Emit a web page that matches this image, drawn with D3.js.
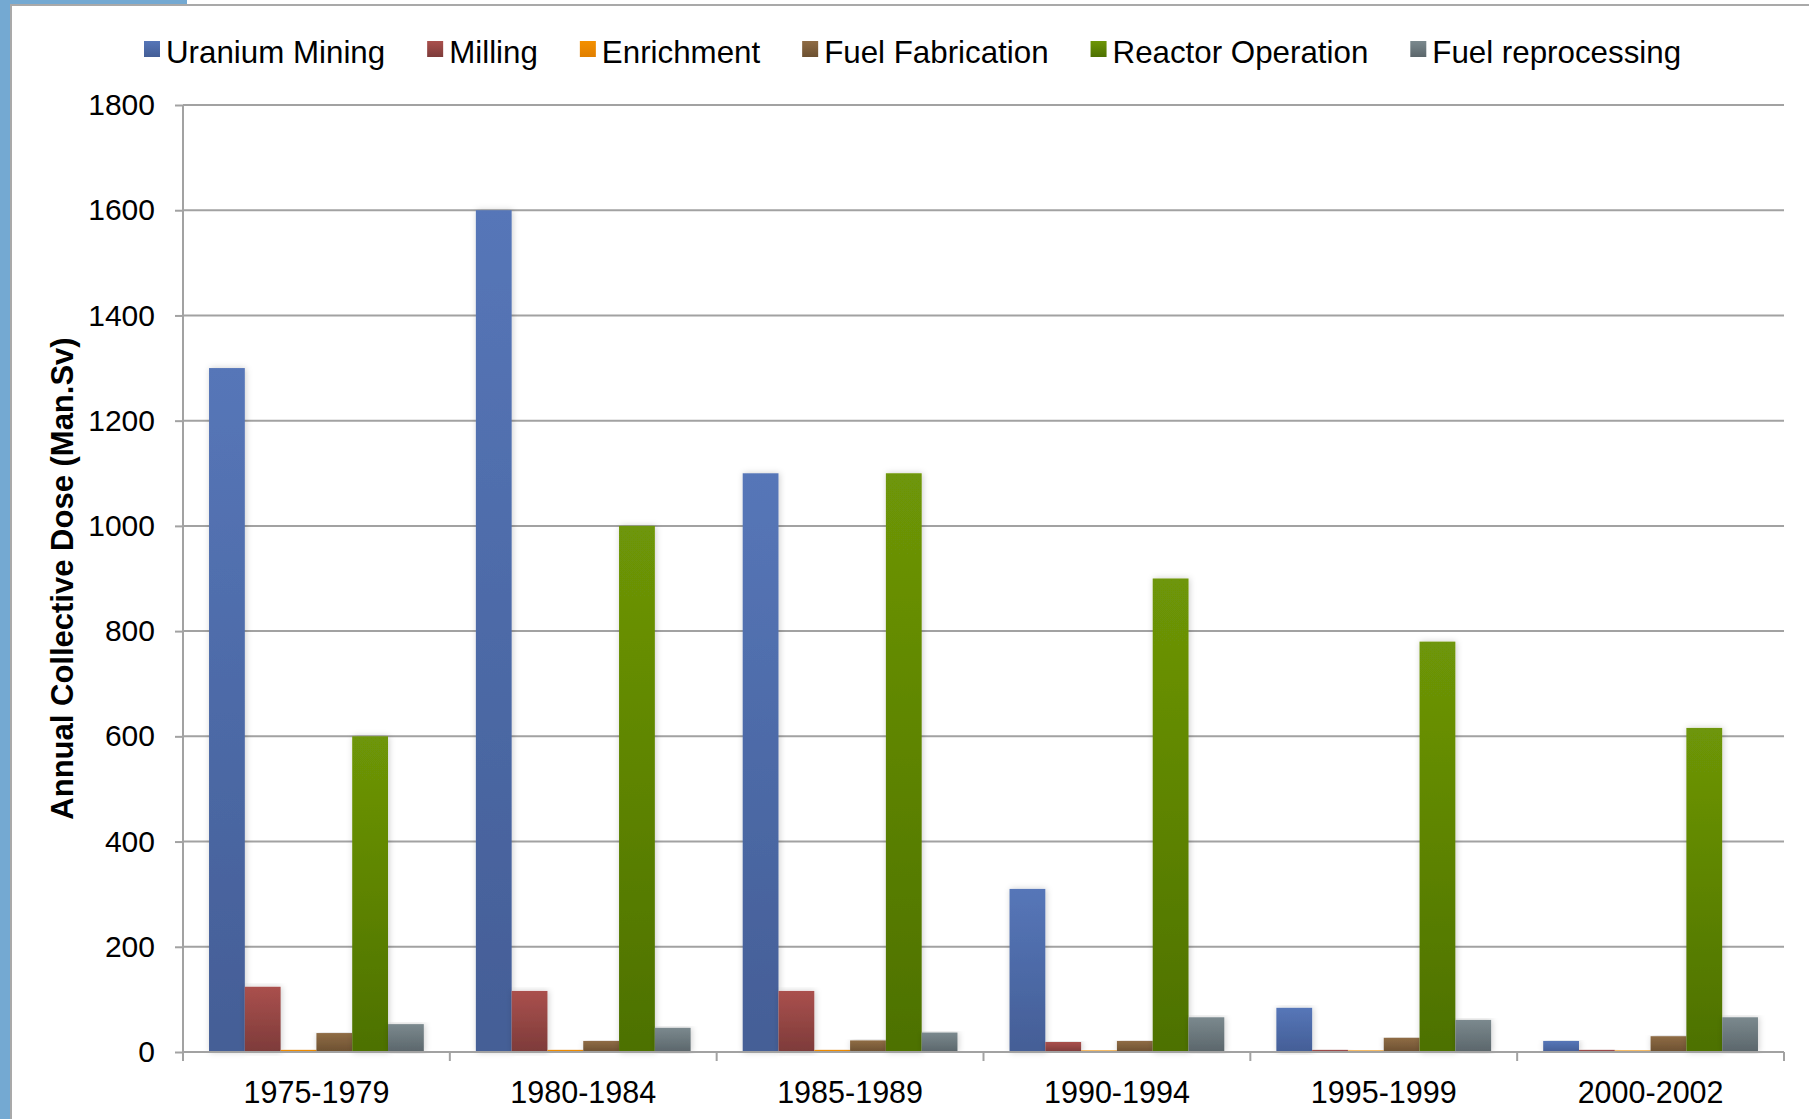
<!DOCTYPE html>
<html>
<head>
<meta charset="utf-8">
<script src="https://cdn.jsdelivr.net/npm/d3@7"></script>
<style>
  body { margin: 0; background: #fff; }
  svg { display: block; font-family: "Liberation Sans", Arial, sans-serif; }
</style>
</head>
<body>
<svg id="chart" width="1809" height="1119"></svg>
<script>
// Annual collective dose by stage of the nuclear fuel cycle
const categories = ["1975-1979", "1980-1984", "1985-1989", "1990-1994", "1995-1999", "2000-2002"];
const seriesNames = ["Uranium Mining", "Milling", "Enrichment", "Fuel Fabrication", "Reactor Operation", "Fuel reprocessing"];
const uraniumMining     = [1300, 1600, 1100, 310, 84, 21];
const milling           = [124, 116, 116, 19, 4, 4];
const enrichment        = [4, 4, 4, 3, 3, 3];
const fuelFabrication   = [36, 21, 22, 21, 27, 30];
const reactorOperation  = [600, 1000, 1100, 900, 780, 616];
const fuelReprocessing  = [53, 46, 37, 66, 61, 66];
const yTicks = [0, 200, 400, 600, 800, 1000, 1200, 1400, 1600, 1800];
const yTitle = "Annual Collective Dose (Man.Sv)";

const seriesValues = [uraniumMining, milling, enrichment, fuelFabrication, reactorOperation, fuelReprocessing];
// top / bottom shades for each series' vertical gradient
const seriesColors = [
  ["#5676b8", "#445e96"],
  ["#aa504d", "#7d3b3a"],
  ["#f49000", "#e07f00"],
  ["#8f6c45", "#6c5031"],
  ["#6e9607", "#4d7100"],
  ["#7b898e", "#5b666b"]
];

const W = 1809, H = 1119;
const plot = { left: 183, right: 1784, top: 105, bottom: 1052 };
const gridColor = "#a2a2a2";

const svg = d3.select("#chart");
const defs = svg.append("defs");

seriesNames.forEach((name, i) => {
  const g = defs.append("linearGradient")
    .attr("id", "grad" + i).attr("x1", 0).attr("y1", 0).attr("x2", 0).attr("y2", 1);
  g.append("stop").attr("offset", "0%").attr("stop-color", seriesColors[i][0]);
  g.append("stop").attr("offset", "100%").attr("stop-color", seriesColors[i][1]);
});

const shadow = defs.append("filter").attr("id", "barShadow")
  .attr("x", "-30%").attr("y", "-5%").attr("width", "160%").attr("height", "110%");
shadow.append("feDropShadow").attr("dx", 1).attr("dy", 0)
  .attr("stdDeviation", 3).attr("flood-color", "#000").attr("flood-opacity", 0.2);

// page frame: blue strip on the left and thin grey border
svg.append("rect").attr("x", 0).attr("y", 0).attr("width", W).attr("height", H).attr("fill", "#fff");
svg.append("rect").attr("x", 0).attr("y", 0).attr("width", 10).attr("height", H).attr("fill", "#74a9d2");
svg.append("rect").attr("x", 0).attr("y", 0).attr("width", 187).attr("height", 4).attr("fill", "#74a9d2");
svg.append("line").attr("x1", 10).attr("x2", W).attr("y1", 5).attr("y2", 5)
  .attr("stroke", "#a9a9a9").attr("stroke-width", 2);
svg.append("line").attr("x1", 11).attr("x2", 11).attr("y1", 5).attr("y2", H)
  .attr("stroke", "#a9a9a9").attr("stroke-width", 2);

// scales
const x0 = d3.scaleBand().domain(categories).range([plot.left, plot.right]).paddingInner(0).paddingOuter(0);
const x1 = d3.scaleBand().domain(seriesNames).range([0, x0.bandwidth()]).paddingInner(0).paddingOuter(0.727);
const y = d3.scaleLinear().domain([0, 1800]).range([plot.bottom, plot.top]);

// horizontal gridlines
svg.append("g").selectAll("line").data(yTicks.filter(d => d > 0)).join("line")
  .attr("x1", plot.left).attr("x2", plot.right)
  .attr("y1", d => y(d)).attr("y2", d => y(d))
  .attr("stroke", gridColor).attr("stroke-width", 2);

// y axis
const yAxis = svg.append("g").attr("transform", `translate(${plot.left},0)`)
  .call(d3.axisLeft(y).tickValues(yTicks).tickSize(8).tickPadding(20).tickFormat(d3.format("d")));
yAxis.select(".domain").remove();
yAxis.selectAll(".tick line").attr("stroke", gridColor).attr("stroke-width", 2);
yAxis.selectAll(".tick text").attr("font-size", 30).attr("fill", "#000")
  .attr("font-family", "'Liberation Sans', Arial, sans-serif");
svg.append("line").attr("x1", plot.left).attr("x2", plot.left)
  .attr("y1", plot.top).attr("y2", plot.bottom + 9)
  .attr("stroke", gridColor).attr("stroke-width", 2);

// bars
const groups = svg.append("g").selectAll("g").data(categories).join("g")
  .attr("transform", d => `translate(${x0(d)},0)`);
groups.selectAll("rect")
  .data((c, ci) => seriesNames.map((s, si) => ({ series: s, si, value: seriesValues[si][ci] })))
  .join("rect")
  .attr("x", d => x1(d.series))
  .attr("width", x1.bandwidth())
  .attr("y", d => y(d.value))
  .attr("height", d => y(0) - y(d.value))
  .attr("fill", d => `url(#grad${d.si})`)
  .attr("filter", "url(#barShadow)");

// x axis
svg.append("line").attr("x1", plot.left).attr("x2", plot.right)
  .attr("y1", plot.bottom).attr("y2", plot.bottom)
  .attr("stroke", gridColor).attr("stroke-width", 2);
const boundaries = categories.map(c => x0(c)).concat([x0.range()[1]]);
svg.append("g").selectAll("line").data(boundaries).join("line")
  .attr("x1", d => d).attr("x2", d => d)
  .attr("y1", plot.bottom).attr("y2", plot.bottom + 9)
  .attr("stroke", gridColor).attr("stroke-width", 2);
const xAxis = svg.append("g").attr("transform", `translate(0,${plot.bottom})`)
  .call(d3.axisBottom(x0).tickSize(0).tickPadding(29));
xAxis.select(".domain").remove();
xAxis.selectAll(".tick text").attr("font-size", 30.5).attr("fill", "#000")
  .attr("font-family", "'Liberation Sans', Arial, sans-serif");

// y axis title
svg.append("text")
  .attr("transform", `translate(62,${(plot.top + plot.bottom) / 2}) rotate(-90)`)
  .attr("text-anchor", "middle").attr("dominant-baseline", "central")
  .attr("font-size", 31).attr("font-weight", "bold").attr("fill", "#000")
  .text(yTitle);

// legend
const legend = svg.append("g");
let lx = 144;
seriesNames.forEach((name, i) => {
  const item = legend.append("g").attr("transform", `translate(${lx},0)`);
  item.append("rect").attr("x", 0).attr("y", 41).attr("width", 16).attr("height", 16)
    .attr("fill", `url(#grad${i})`);
  const t = item.append("text").attr("x", 22).attr("y", 63)
    .attr("font-size", 31.3).attr("fill", "#000").text(name);
  lx += 22 + t.node().getComputedTextLength() + 42;
});
</script>
</body>
</html>
